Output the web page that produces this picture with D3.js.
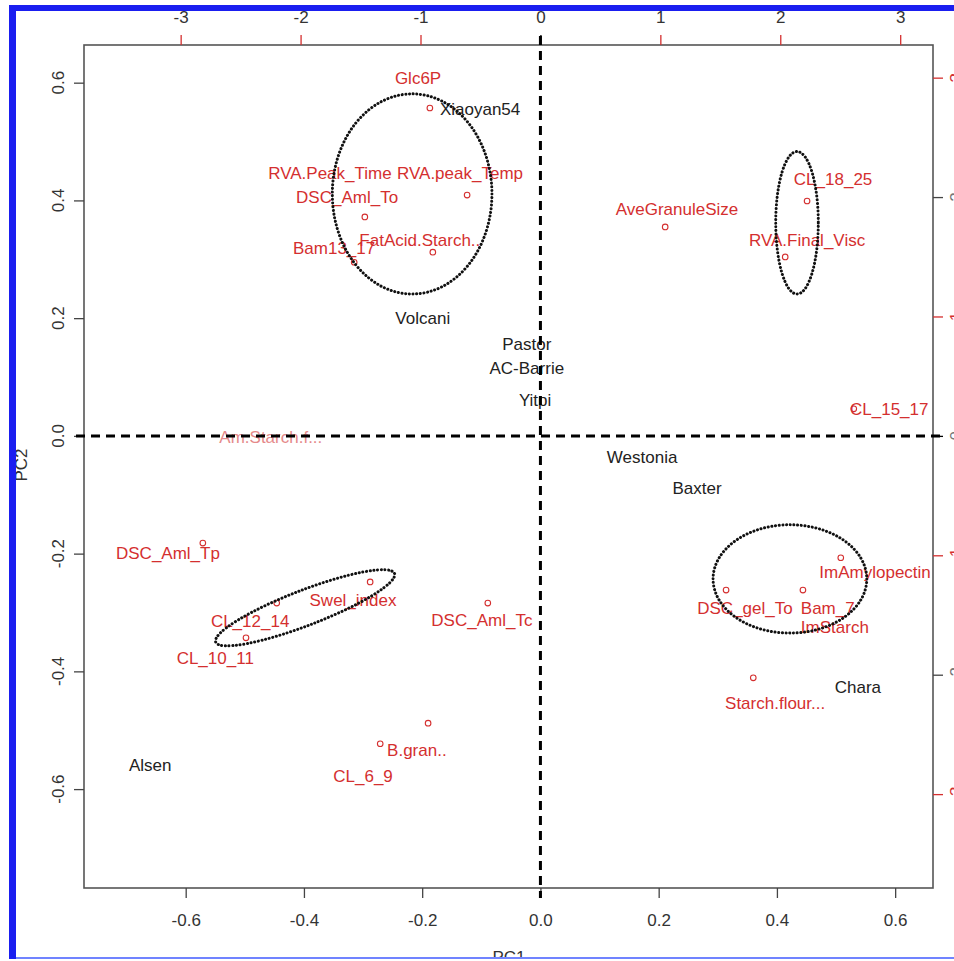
<!DOCTYPE html>
<html>
<head>
<meta charset="utf-8">
<script src="https://cdn.jsdelivr.net/npm/d3@7"></script>
<style>
  body { margin: 0; background: #fff; }
  svg { display: block; font-family: "Liberation Sans", Arial, sans-serif; }
</style>
</head>
<body>
<svg id="biplot" width="954" height="961"></svg>
<script>
// variables (red): label positions on PC1/PC2
var varNames = ["Glc6P", "RVA.Peak_Time", "RVA.peak_Temp", "DSC_Aml_To", "Bam13_17", "FatAcid.Starch..",
  "AveGranuleSize", "CL_18_25", "RVA.Final_Visc", "CL_15_17", "Am.Starch.f...", "DSC_Aml_Tp",
  "Swel_index", "CL_12_14", "CL_10_11", "DSC_Aml_Tc", "B.gran..", "CL_6_9", "ImAmylopectin",
  "DSC_gel_To", "Bam_7", "ImStarch", "Starch.flour..."];
var varX = [-0.207, -0.356, -0.136, -0.327, -0.349, -0.204, 0.231, 0.495, 0.451, 0.590, -0.456, -0.630,
  -0.317, -0.491, -0.550, -0.099, -0.209, -0.300, 0.566, 0.346, 0.486, 0.498, 0.397];
var varY = [0.608, 0.447, 0.447, 0.406, 0.319, 0.333, 0.385, 0.436, 0.333, 0.046, -0.002, -0.199,
  -0.279, -0.314, -0.377, -0.313, -0.534, -0.578, -0.231, -0.292, -0.292, -0.325, -0.454];

// small red circles
var ptX = [-0.187, -0.124, -0.297, -0.182, -0.315, 0.211, 0.451, 0.414, 0.530, -0.571,
  -0.288, -0.446, -0.498, -0.089, -0.190, -0.271, 0.508, 0.314, 0.444, 0.360];
var ptY = [0.557, 0.409, 0.372, 0.312, 0.295, 0.355, 0.399, 0.304, 0.046, -0.182,
  -0.248, -0.284, -0.343, -0.284, -0.488, -0.523, -0.207, -0.262, -0.262, -0.411];

// cultivars (black)
var sampleNames = ["Xiaoyan54", "Volcani", "Pastor", "AC-Barrie", "Yitpi", "Westonia", "Baxter", "Chara", "Alsen"];
var sampleX = [-0.102, -0.199, -0.023, -0.023, -0.009, 0.172, 0.265, 0.537, -0.660];
var sampleY = [0.555, 0.200, 0.156, 0.115, 0.061, -0.036, -0.089, -0.427, -0.559];

// cluster ellipses: centre, radii (PC units), angle
var ellCX = [-0.217, 0.434, -0.398, 0.422];
var ellCY = [0.411, 0.362, -0.292, -0.243];
var ellRX = [0.135, 0.036, 0.162, 0.130];
var ellRY = [0.170, 0.121, 0.030, 0.092];
var ellAngle = [0, 0, -21, 0];

var pcTicks = [-0.6, -0.4, -0.2, 0.0, 0.2, 0.4, 0.6];
var loadTicks = [-3, -2, -1, 0, 1, 2, 3];

var svg = d3.select("#biplot");
var box = {l: 84, r: 933, t: 45, b: 888};
var ratio = 4.93;

var x = d3.scaleLinear().domain([-0.772, 0.664]).range([box.l, box.r]);
var y = d3.scaleLinear().domain([-0.768, 0.664]).range([box.b, box.t]);
var x2 = d3.scaleLinear().domain([-0.772 * ratio, 0.664 * ratio]).range([box.l, box.r]);
var y2 = d3.scaleLinear().domain([-0.768 * ratio, 0.664 * ratio]).range([box.b, box.t]);

var red = "#d42f2f", ink = "#333";
var fs = "17px";
var fmt = function (d) { return d3.format(".1f")(d).replace("\u2212", "-"); };

// frame
svg.append("rect").attr("x", box.l).attr("y", box.t)
  .attr("width", box.r - box.l).attr("height", box.b - box.t)
  .attr("fill", "none").attr("stroke", "#555").attr("stroke-width", 1.6);

// bottom axis
var gb = svg.append("g").attr("transform", "translate(0," + box.b + ")")
  .call(d3.axisBottom(x).tickValues(pcTicks).tickSize(10).tickPadding(16));
gb.select(".domain").remove();
gb.selectAll("line").attr("stroke", "#444").attr("stroke-width", 1.3);
gb.selectAll("text").attr("font-size", fs).attr("fill", ink).attr("font-family", null).text(fmt);

// left axis, rotated labels
var gl = svg.append("g").attr("transform", "translate(" + box.l + ",0)")
  .call(d3.axisLeft(y).tickValues(pcTicks).tickSize(10).tickFormat(""));
gl.select(".domain").remove();
gl.selectAll("line").attr("stroke", "#444").attr("stroke-width", 1.3);
svg.selectAll(".ylab").data(pcTicks).enter().append("text")
  .attr("transform", function (d) { return "translate(64," + y(d) + ") rotate(-90)"; })
  .attr("text-anchor", "middle").attr("font-size", fs).attr("fill", ink).text(fmt);

// top axis (loadings)
var gt = svg.append("g").attr("transform", "translate(0," + box.t + ")")
  .call(d3.axisTop(x2).tickValues(loadTicks).tickSize(10).tickPadding(12));
gt.select(".domain").remove();
gt.selectAll("line").attr("stroke", function (d) { return d === 0 ? "#000" : red; }).attr("stroke-width", 1.3);
gt.selectAll("text").attr("font-size", fs).attr("fill", ink).attr("font-family", null)
  .text(function (d) { return String(d); });

// right axis (loadings), labels cut by the page edge
var gr = svg.append("g").attr("transform", "translate(" + box.r + ",0)")
  .call(d3.axisRight(y2).tickValues(loadTicks).tickSize(10).tickFormat(""));
gr.select(".domain").remove();
gr.selectAll("line").attr("stroke", function (d, i) { return d === 0 ? "#000" : (i % 2 ? "#444" : red); })
  .attr("stroke-width", 1.3);
svg.selectAll(".rlab").data(loadTicks).enter().append("text")
  .attr("transform", function (d) { return "translate(962," + y2(d) + ") rotate(-90)"; })
  .attr("text-anchor", "middle").attr("font-size", fs)
  .attr("fill", function (d, i) { return i % 2 ? "#777" : red; })
  .text(function (d) { return String(d); });

// axis titles
svg.append("text").attr("transform", "translate(27,465) rotate(-90)")
  .attr("text-anchor", "middle").attr("font-size", fs).attr("fill", ink).text("PC2");
svg.append("text").attr("x", 509).attr("y", 963)
  .attr("text-anchor", "middle").attr("font-size", fs).attr("fill", ink).text("PC1");

// points
svg.append("g").selectAll("circle").data(ptX).enter().append("circle")
  .attr("cx", function (d) { return x(d); })
  .attr("cy", function (d, i) { return y(ptY[i]); })
  .attr("r", 2.8).attr("fill", "none").attr("stroke", red).attr("stroke-width", 1.1);

// variable labels
svg.append("g").selectAll("text").data(varNames).enter().append("text")
  .attr("x", function (d, i) { return x(varX[i]); })
  .attr("y", function (d, i) { return y(varY[i]); })
  .attr("dy", "0.36em").attr("text-anchor", "middle")
  .attr("font-size", fs)
  .attr("fill", function (d) { return d === "Am.Starch.f..." ? "#e58a8a" : red; })
  .text(function (d) { return d; });

// cultivar labels
svg.append("g").selectAll("text").data(sampleNames).enter().append("text")
  .attr("x", function (d, i) { return x(sampleX[i]); })
  .attr("y", function (d, i) { return y(sampleY[i]); })
  .attr("dy", "0.36em").attr("text-anchor", "middle")
  .attr("font-size", fs).attr("fill", "#222").text(function (d) { return d; });

// ellipses (drawn over the labels)
svg.append("g").selectAll("ellipse").data(ellCX).enter().append("ellipse")
  .attr("transform", function (d, i) {
    return "translate(" + x(d) + "," + y(ellCY[i]) + ") rotate(" + ellAngle[i] + ")";
  })
  .attr("rx", function (d, i) { return x(ellRX[i]) - x(0); })
  .attr("ry", function (d, i) { return y(0) - y(ellRY[i]); })
  .attr("fill", "none").attr("stroke", "#111").attr("stroke-width", 3)
  .attr("stroke-linecap", "round").attr("stroke-dasharray", "0.1 3.6");

// dashed zero lines
svg.append("line").attr("x1", box.l - 8).attr("x2", box.r + 10)
  .attr("y1", y(0)).attr("y2", y(0))
  .attr("stroke", "#000").attr("stroke-width", 3).attr("stroke-dasharray", "9 6");
svg.append("line").attr("x1", x(0)).attr("x2", x(0))
  .attr("y1", box.t - 9).attr("y2", box.b + 10)
  .attr("stroke", "#000").attr("stroke-width", 3).attr("stroke-dasharray", "9 6");

// blue border of the scanned figure
svg.append("rect").attr("x", 0).attr("y", 959).attr("width", 954).attr("height", 2).attr("fill", "#fff");
svg.append("rect").attr("x", 10).attr("y", 957).attr("width", 944).attr("height", 2).attr("fill", "#7083ff");
svg.append("rect").attr("x", 9).attr("y", 5).attr("width", 945).attr("height", 6).attr("fill", "#1a1ef0");
svg.append("rect").attr("x", 9).attr("y", 5).attr("width", 7).attr("height", 954).attr("fill", "#1a1ef0");
</script>
</body>
</html>
